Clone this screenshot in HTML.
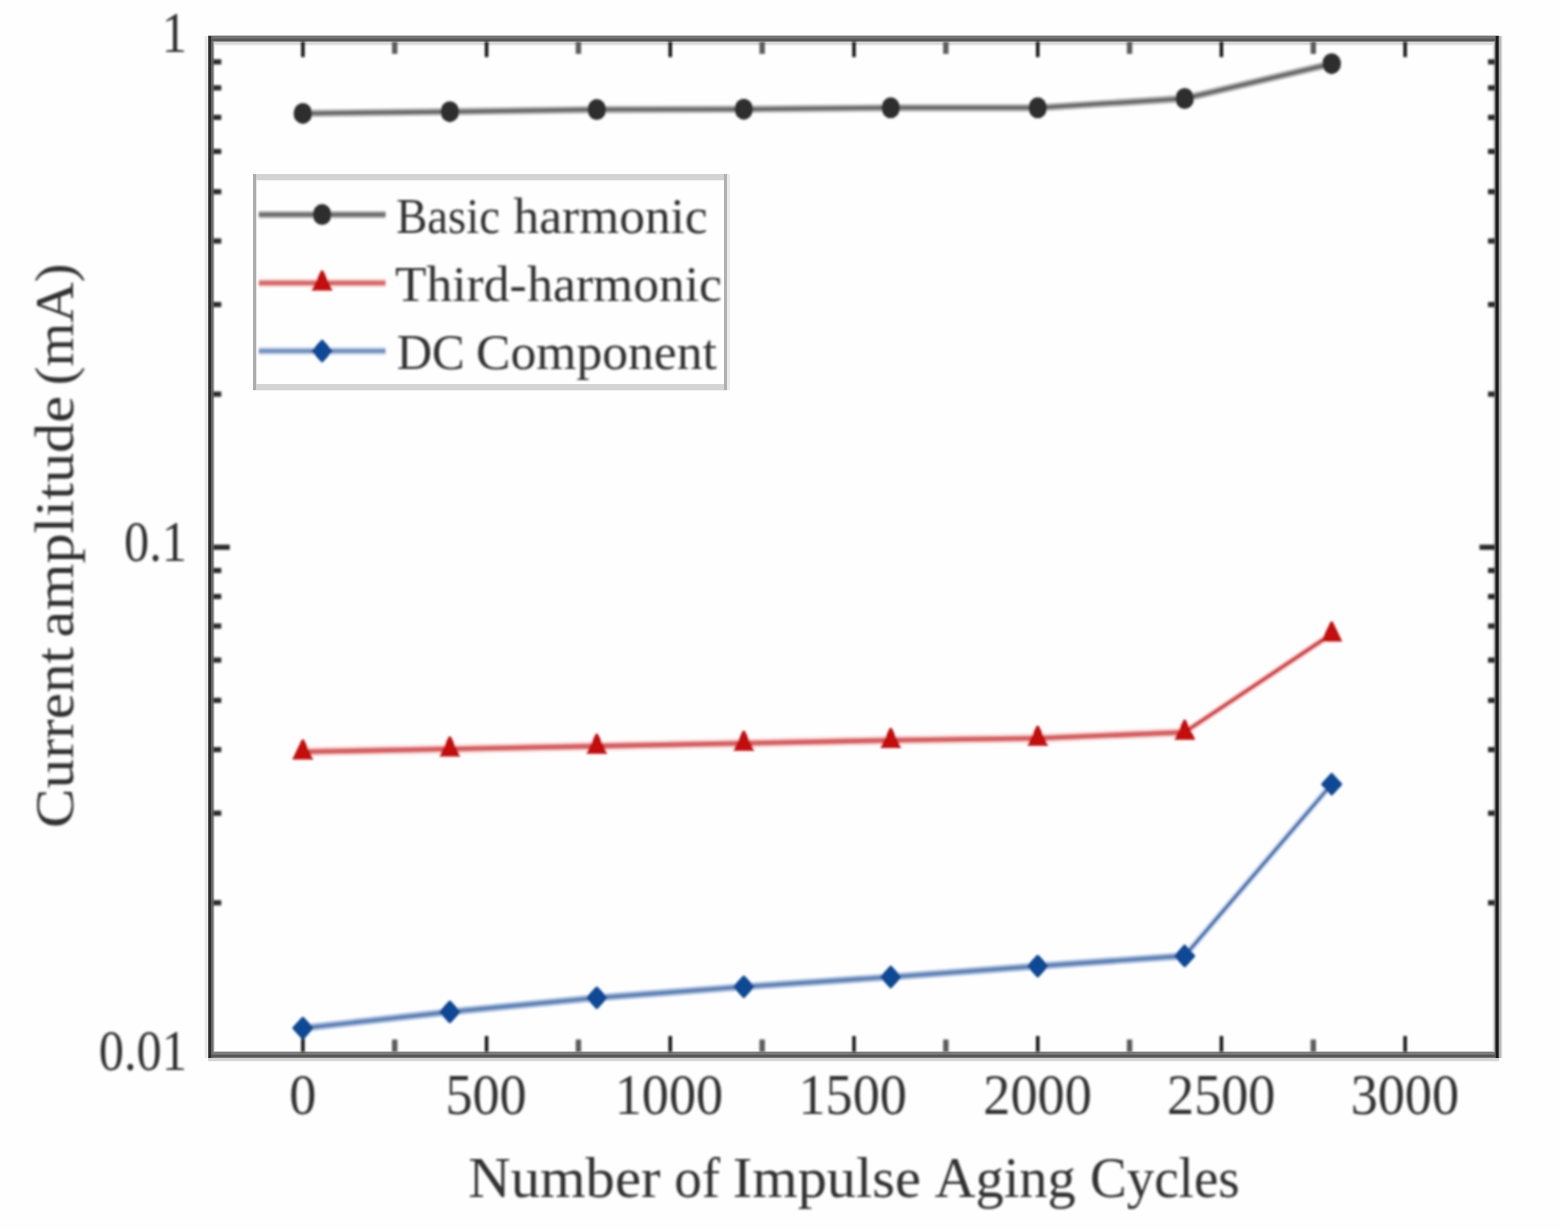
<!DOCTYPE html>
<html><head><meta charset="utf-8"><title>Current amplitude vs impulse aging cycles</title>
<style>
html,body{margin:0;padding:0;background:#fff;}
svg{display:block;}
text{font-family:'Liberation Serif', 'DejaVu Serif', serif;font-kerning:none;}
</style></head>
<body>
<svg width="1560" height="1230" viewBox="0 0 1560 1230">
<defs><filter id="bl" x="-2%" y="-2%" width="104%" height="104%"><feGaussianBlur stdDeviation="0.9"/></filter></defs>
<rect width="1560" height="1230" fill="#fefefe"/>
<rect x="204" y="36" width="1" height="1022" fill="#f8f8f8"/>
<rect x="208" y="45" width="1291" height="1" fill="#f6f6f6"/>
<rect x="208" y="1061" width="1291" height="1" fill="#f4f4f4"/>
<rect x="1502" y="36" width="1" height="1022" fill="#f4f4f4"/>
<rect x="207" y="36" width="1" height="1022" fill="#f0f0f0"/>
<rect x="1492" y="36" width="1" height="1022" fill="#f0f0f0"/>
<rect x="205" y="36" width="1" height="1022" fill="#e8e8e8"/>
<rect x="206" y="36" width="1" height="1022" fill="#e8e8e8"/>
<rect x="214" y="36" width="1" height="1022" fill="#e4e4e4"/>
<rect x="208" y="44" width="1291" height="1" fill="#e2e2e2"/>
<rect x="208" y="42" width="1291" height="1" fill="#dcdcdc"/>
<rect x="1493" y="36" width="1" height="1022" fill="#dcdcdc"/>
<rect x="208" y="43" width="1291" height="1" fill="#d8d8d8"/>
<rect x="208" y="1060" width="1291" height="1" fill="#d8d8d8"/>
<rect x="1501" y="36" width="1" height="1022" fill="#d8d8d8"/>
<rect x="208" y="1058" width="1291" height="1" fill="#d6d6d6"/>
<rect x="208" y="1059" width="1291" height="1" fill="#d2d2d2"/>
<rect x="208" y="1051" width="1291" height="1" fill="#c8c8c8"/>
<rect x="208" y="35" width="1291" height="1" fill="#c4c4c4"/>
<rect x="1500" y="36" width="1" height="1022" fill="#b8b8b8"/>
<rect x="1499" y="36" width="1" height="1022" fill="#b0b0b0"/>
<rect x="1494" y="36" width="1" height="1022" fill="#a8a8a8"/>
<rect x="213" y="36" width="1" height="1022" fill="#9c9c9c"/>
<rect x="208" y="41" width="1291" height="1" fill="#909090"/>
<rect x="208" y="1053" width="1291" height="1" fill="#7d7d7d"/>
<rect x="208" y="1052" width="1291" height="1" fill="#7b7b7b"/>
<rect x="208" y="37" width="1291" height="1" fill="#777777"/>
<rect x="208" y="1057" width="1291" height="1" fill="#777777"/>
<rect x="208" y="36" width="1291" height="1" fill="#717171"/>
<rect x="208" y="1054" width="1291" height="1" fill="#6f6f6f"/>
<rect x="212" y="36" width="1" height="1022" fill="#6c6c6c"/>
<rect x="208" y="38" width="1291" height="1" fill="#666666"/>
<rect x="211" y="36" width="1" height="1022" fill="#666666"/>
<rect x="208" y="39" width="1291" height="1" fill="#5a5a5a"/>
<rect x="208" y="40" width="1291" height="1" fill="#585858"/>
<rect x="208" y="1056" width="1291" height="1" fill="#575757"/>
<rect x="208" y="1055" width="1291" height="1" fill="#555555"/>
<rect x="208" y="36" width="1" height="1022" fill="#555555"/>
<rect x="1495" y="36" width="1" height="1022" fill="#555555"/>
<rect x="1498" y="36" width="1" height="1022" fill="#454545"/>
<rect x="209" y="36" width="1" height="1022" fill="#2e2e2e"/>
<rect x="210" y="36" width="1" height="1022" fill="#2a2a2a"/>
<rect x="1496" y="36" width="1" height="1022" fill="#1c1c1c"/>
<rect x="1497" y="36" width="1" height="1022" fill="#1a1a1a"/>
<rect x="253" y="180" width="474" height="1" fill="#f2f2f2"/>
<rect x="253" y="390" width="474" height="1" fill="#f0f0f0"/>
<rect x="256" y="174" width="1" height="216" fill="#e6e6e6"/>
<rect x="727" y="174" width="3" height="216" fill="#ebebeb"/>
<rect x="253" y="384" width="474" height="6" fill="#d4d4d4"/>
<rect x="253" y="174" width="474" height="6" fill="#d3d3d3"/>
<rect x="724" y="174" width="3" height="216" fill="#b0b0b0"/>
<rect x="253" y="174" width="3" height="216" fill="#acacac"/>
<g filter="url(#bl)">
<rect x="301.16" y="1036.00" width="3.4" height="16.00" fill="#0c0c0c"/>
<rect x="301.16" y="41.6" width="3.4" height="15.50" fill="#0c0c0c"/>
<rect x="392.02" y="1039.50" width="5.4" height="12.50" fill="#5c5c5c"/>
<rect x="392.02" y="41.6" width="5.4" height="12.30" fill="#5c5c5c"/>
<rect x="484.88" y="1036.00" width="3.4" height="16.00" fill="#0c0c0c"/>
<rect x="484.88" y="41.6" width="3.4" height="15.50" fill="#0c0c0c"/>
<rect x="575.73" y="1039.50" width="5.4" height="12.50" fill="#5c5c5c"/>
<rect x="575.73" y="41.6" width="5.4" height="12.30" fill="#5c5c5c"/>
<rect x="668.59" y="1036.00" width="3.4" height="16.00" fill="#0c0c0c"/>
<rect x="668.59" y="41.6" width="3.4" height="15.50" fill="#0c0c0c"/>
<rect x="759.45" y="1039.50" width="5.4" height="12.50" fill="#5c5c5c"/>
<rect x="759.45" y="41.6" width="5.4" height="12.30" fill="#5c5c5c"/>
<rect x="852.30" y="1036.00" width="3.4" height="16.00" fill="#0c0c0c"/>
<rect x="852.30" y="41.6" width="3.4" height="15.50" fill="#0c0c0c"/>
<rect x="943.16" y="1039.50" width="5.4" height="12.50" fill="#5c5c5c"/>
<rect x="943.16" y="41.6" width="5.4" height="12.30" fill="#5c5c5c"/>
<rect x="1036.02" y="1036.00" width="3.4" height="16.00" fill="#0c0c0c"/>
<rect x="1036.02" y="41.6" width="3.4" height="15.50" fill="#0c0c0c"/>
<rect x="1126.88" y="1039.50" width="5.4" height="12.50" fill="#5c5c5c"/>
<rect x="1126.88" y="41.6" width="5.4" height="12.30" fill="#5c5c5c"/>
<rect x="1219.73" y="1036.00" width="3.4" height="16.00" fill="#0c0c0c"/>
<rect x="1219.73" y="41.6" width="3.4" height="15.50" fill="#0c0c0c"/>
<rect x="1310.59" y="1039.50" width="5.4" height="12.50" fill="#5c5c5c"/>
<rect x="1310.59" y="41.6" width="5.4" height="12.30" fill="#5c5c5c"/>
<rect x="1403.45" y="1036.00" width="3.4" height="16.00" fill="#0c0c0c"/>
<rect x="1403.45" y="41.6" width="3.4" height="15.50" fill="#0c0c0c"/>
<rect x="213" y="900.18" width="8.30" height="5.2" fill="#2a2a2a"/>
<rect x="1488.00" y="900.18" width="7.50" height="5.2" fill="#2a2a2a"/>
<rect x="213" y="810.61" width="8.30" height="5.2" fill="#2a2a2a"/>
<rect x="1488.00" y="810.61" width="7.50" height="5.2" fill="#2a2a2a"/>
<rect x="213" y="747.06" width="8.30" height="5.2" fill="#2a2a2a"/>
<rect x="1488.00" y="747.06" width="7.50" height="5.2" fill="#2a2a2a"/>
<rect x="213" y="697.77" width="8.30" height="5.2" fill="#2a2a2a"/>
<rect x="1488.00" y="697.77" width="7.50" height="5.2" fill="#2a2a2a"/>
<rect x="213" y="657.49" width="8.30" height="5.2" fill="#2a2a2a"/>
<rect x="1488.00" y="657.49" width="7.50" height="5.2" fill="#2a2a2a"/>
<rect x="213" y="623.44" width="8.30" height="5.2" fill="#2a2a2a"/>
<rect x="1488.00" y="623.44" width="7.50" height="5.2" fill="#2a2a2a"/>
<rect x="213" y="593.94" width="8.30" height="5.2" fill="#2a2a2a"/>
<rect x="1488.00" y="593.94" width="7.50" height="5.2" fill="#2a2a2a"/>
<rect x="213" y="567.92" width="8.30" height="5.2" fill="#2a2a2a"/>
<rect x="1488.00" y="567.92" width="7.50" height="5.2" fill="#2a2a2a"/>
<rect x="213" y="544.65" width="16.80" height="5.2" fill="#2a2a2a"/>
<rect x="1479.50" y="544.65" width="16.00" height="5.2" fill="#2a2a2a"/>
<rect x="213" y="391.53" width="8.30" height="5.2" fill="#2a2a2a"/>
<rect x="1488.00" y="391.53" width="7.50" height="5.2" fill="#2a2a2a"/>
<rect x="213" y="301.96" width="8.30" height="5.2" fill="#2a2a2a"/>
<rect x="1488.00" y="301.96" width="7.50" height="5.2" fill="#2a2a2a"/>
<rect x="213" y="238.41" width="8.30" height="5.2" fill="#2a2a2a"/>
<rect x="1488.00" y="238.41" width="7.50" height="5.2" fill="#2a2a2a"/>
<rect x="213" y="189.12" width="8.30" height="5.2" fill="#2a2a2a"/>
<rect x="1488.00" y="189.12" width="7.50" height="5.2" fill="#2a2a2a"/>
<rect x="213" y="148.84" width="8.30" height="5.2" fill="#2a2a2a"/>
<rect x="1488.00" y="148.84" width="7.50" height="5.2" fill="#2a2a2a"/>
<rect x="213" y="114.79" width="8.30" height="5.2" fill="#2a2a2a"/>
<rect x="1488.00" y="114.79" width="7.50" height="5.2" fill="#2a2a2a"/>
<rect x="213" y="85.29" width="8.30" height="5.2" fill="#2a2a2a"/>
<rect x="1488.00" y="85.29" width="7.50" height="5.2" fill="#2a2a2a"/>
<rect x="213" y="59.27" width="8.30" height="5.2" fill="#2a2a2a"/>
<rect x="1488.00" y="59.27" width="7.50" height="5.2" fill="#2a2a2a"/>
<line x1="302.86" y1="113.40" x2="449.83" y2="111.70" stroke="#bababa" stroke-width="7.8" stroke-linecap="round"/><line x1="449.83" y1="111.70" x2="596.80" y2="109.60" stroke="#bababa" stroke-width="7.8" stroke-linecap="round"/><line x1="596.80" y1="109.60" x2="743.78" y2="109.20" stroke="#bababa" stroke-width="7.8" stroke-linecap="round"/><line x1="743.78" y1="109.20" x2="890.75" y2="107.80" stroke="#bababa" stroke-width="7.8" stroke-linecap="round"/><line x1="890.75" y1="107.80" x2="1037.72" y2="107.80" stroke="#bababa" stroke-width="7.8" stroke-linecap="round"/><line x1="1037.72" y1="107.80" x2="1184.69" y2="98.50" stroke="#bababa" stroke-width="7.8" stroke-linecap="round"/><line x1="1184.69" y1="98.50" x2="1331.66" y2="63.70" stroke="#bababa" stroke-width="7.8" stroke-linecap="round"/><line x1="302.86" y1="113.40" x2="449.83" y2="111.70" stroke="#6c6c6c" stroke-width="4.0" stroke-linecap="round"/><line x1="449.83" y1="111.70" x2="596.80" y2="109.60" stroke="#6c6c6c" stroke-width="4.0" stroke-linecap="round"/><line x1="596.80" y1="109.60" x2="743.78" y2="109.20" stroke="#6c6c6c" stroke-width="4.0" stroke-linecap="round"/><line x1="743.78" y1="109.20" x2="890.75" y2="107.80" stroke="#6c6c6c" stroke-width="4.0" stroke-linecap="round"/><line x1="890.75" y1="107.80" x2="1037.72" y2="107.80" stroke="#6c6c6c" stroke-width="4.0" stroke-linecap="round"/><line x1="1037.72" y1="107.80" x2="1184.69" y2="98.50" stroke="#6c6c6c" stroke-width="4.0" stroke-linecap="round"/><line x1="1184.69" y1="98.50" x2="1331.66" y2="63.70" stroke="#6c6c6c" stroke-width="4.0" stroke-linecap="round"/>
<line x1="302.86" y1="751.80" x2="449.83" y2="749.00" stroke="#f6e2e2" stroke-width="10" stroke-linecap="round"/><line x1="449.83" y1="749.00" x2="596.80" y2="746.10" stroke="#f6e2e2" stroke-width="10" stroke-linecap="round"/><line x1="596.80" y1="746.10" x2="743.78" y2="743.20" stroke="#f6e2e2" stroke-width="10" stroke-linecap="round"/><line x1="743.78" y1="743.20" x2="890.75" y2="740.30" stroke="#f6e2e2" stroke-width="10" stroke-linecap="round"/><line x1="890.75" y1="740.30" x2="1037.72" y2="738.20" stroke="#f6e2e2" stroke-width="10" stroke-linecap="round"/><line x1="1037.72" y1="738.20" x2="1184.69" y2="732.20" stroke="#f6e2e2" stroke-width="10" stroke-linecap="round"/><line x1="1184.69" y1="732.20" x2="1331.66" y2="634.00" stroke="#f3d3d3" stroke-width="6.6" stroke-linecap="round"/><line x1="302.86" y1="751.80" x2="449.83" y2="749.00" stroke="#db6264" stroke-width="5.6" stroke-linecap="round"/><line x1="449.83" y1="749.00" x2="596.80" y2="746.10" stroke="#db6264" stroke-width="5.6" stroke-linecap="round"/><line x1="596.80" y1="746.10" x2="743.78" y2="743.20" stroke="#db6264" stroke-width="5.6" stroke-linecap="round"/><line x1="743.78" y1="743.20" x2="890.75" y2="740.30" stroke="#db6264" stroke-width="5.6" stroke-linecap="round"/><line x1="890.75" y1="740.30" x2="1037.72" y2="738.20" stroke="#db6264" stroke-width="5.6" stroke-linecap="round"/><line x1="1037.72" y1="738.20" x2="1184.69" y2="732.20" stroke="#db6264" stroke-width="5.6" stroke-linecap="round"/><line x1="1184.69" y1="732.20" x2="1331.66" y2="634.00" stroke="#d6474b" stroke-width="4.0" stroke-linecap="round"/>
<line x1="302.86" y1="1028.10" x2="449.83" y2="1011.90" stroke="#adc0dc" stroke-width="7.6" stroke-linecap="round"/><line x1="449.83" y1="1011.90" x2="596.80" y2="997.80" stroke="#adc0dc" stroke-width="7.6" stroke-linecap="round"/><line x1="596.80" y1="997.80" x2="743.78" y2="986.80" stroke="#adc0dc" stroke-width="7.6" stroke-linecap="round"/><line x1="743.78" y1="986.80" x2="890.75" y2="977.00" stroke="#adc0dc" stroke-width="7.6" stroke-linecap="round"/><line x1="890.75" y1="977.00" x2="1037.72" y2="966.10" stroke="#adc0dc" stroke-width="7.6" stroke-linecap="round"/><line x1="1037.72" y1="966.10" x2="1184.69" y2="955.90" stroke="#adc0dc" stroke-width="7.6" stroke-linecap="round"/><line x1="1184.69" y1="955.90" x2="1331.66" y2="784.20" stroke="#c8d5ea" stroke-width="6.4" stroke-linecap="round"/><line x1="302.86" y1="1028.10" x2="449.83" y2="1011.90" stroke="#5881b7" stroke-width="3.6" stroke-linecap="round"/><line x1="449.83" y1="1011.90" x2="596.80" y2="997.80" stroke="#5881b7" stroke-width="3.6" stroke-linecap="round"/><line x1="596.80" y1="997.80" x2="743.78" y2="986.80" stroke="#5881b7" stroke-width="3.6" stroke-linecap="round"/><line x1="743.78" y1="986.80" x2="890.75" y2="977.00" stroke="#5881b7" stroke-width="3.6" stroke-linecap="round"/><line x1="890.75" y1="977.00" x2="1037.72" y2="966.10" stroke="#5881b7" stroke-width="3.6" stroke-linecap="round"/><line x1="1037.72" y1="966.10" x2="1184.69" y2="955.90" stroke="#5881b7" stroke-width="3.6" stroke-linecap="round"/><line x1="1184.69" y1="955.90" x2="1331.66" y2="784.20" stroke="#4372b1" stroke-width="3.2" stroke-linecap="round"/>
<ellipse cx="302.86" cy="113.40" rx="9.3" ry="10.5" fill="#2e2e2e"/>
<ellipse cx="449.83" cy="111.70" rx="9.3" ry="10.5" fill="#2e2e2e"/>
<ellipse cx="596.80" cy="109.60" rx="9.3" ry="10.5" fill="#2e2e2e"/>
<ellipse cx="743.78" cy="109.20" rx="9.3" ry="10.5" fill="#2e2e2e"/>
<ellipse cx="890.75" cy="107.80" rx="9.3" ry="10.5" fill="#2e2e2e"/>
<ellipse cx="1037.72" cy="107.80" rx="9.3" ry="10.5" fill="#2e2e2e"/>
<ellipse cx="1184.69" cy="98.50" rx="9.3" ry="10.5" fill="#2e2e2e"/>
<ellipse cx="1331.66" cy="63.70" rx="9.3" ry="10.5" fill="#2e2e2e"/>
<polygon points="301.86,739.40 303.86,739.40 313.46,759.40 292.26,759.40" fill="#c40709"/>
<polygon points="448.83,736.60 450.83,736.60 460.43,756.60 439.23,756.60" fill="#c40709"/>
<polygon points="595.80,733.70 597.80,733.70 607.40,753.70 586.20,753.70" fill="#c40709"/>
<polygon points="742.78,730.80 744.78,730.80 754.38,750.80 733.18,750.80" fill="#c40709"/>
<polygon points="889.75,727.90 891.75,727.90 901.35,747.90 880.15,747.90" fill="#c40709"/>
<polygon points="1036.72,725.80 1038.72,725.80 1048.32,745.80 1027.12,745.80" fill="#c40709"/>
<polygon points="1183.69,719.80 1185.69,719.80 1195.29,739.80 1174.09,739.80" fill="#c40709"/>
<polygon points="1330.66,621.60 1332.66,621.60 1342.26,641.60 1321.06,641.60" fill="#c40709"/>
<polygon points="302.86,1018.30 311.86,1028.10 302.86,1037.90 293.86,1028.10" fill="#0f4a95" stroke="#0f4a95" stroke-width="3" stroke-linejoin="round"/>
<polygon points="449.83,1002.10 458.83,1011.90 449.83,1021.70 440.83,1011.90" fill="#0f4a95" stroke="#0f4a95" stroke-width="3" stroke-linejoin="round"/>
<polygon points="596.80,988.00 605.80,997.80 596.80,1007.60 587.80,997.80" fill="#0f4a95" stroke="#0f4a95" stroke-width="3" stroke-linejoin="round"/>
<polygon points="743.78,977.00 752.78,986.80 743.78,996.60 734.78,986.80" fill="#0f4a95" stroke="#0f4a95" stroke-width="3" stroke-linejoin="round"/>
<polygon points="890.75,967.20 899.75,977.00 890.75,986.80 881.75,977.00" fill="#0f4a95" stroke="#0f4a95" stroke-width="3" stroke-linejoin="round"/>
<polygon points="1037.72,956.30 1046.72,966.10 1037.72,975.90 1028.72,966.10" fill="#0f4a95" stroke="#0f4a95" stroke-width="3" stroke-linejoin="round"/>
<polygon points="1184.69,946.10 1193.69,955.90 1184.69,965.70 1175.69,955.90" fill="#0f4a95" stroke="#0f4a95" stroke-width="3" stroke-linejoin="round"/>
<polygon points="1331.66,774.40 1340.66,784.20 1331.66,794.00 1322.66,784.20" fill="#0f4a95" stroke="#0f4a95" stroke-width="3" stroke-linejoin="round"/>
<line x1="258.8" y1="214.6" x2="385.5" y2="214.6" stroke="#b4b4b4" stroke-width="7.4"/>
<line x1="258.8" y1="214.6" x2="385.5" y2="214.6" stroke="#6a6a6a" stroke-width="3.8"/>
<ellipse cx="322.10" cy="214.60" rx="9.3" ry="10.5" fill="#2e2e2e"/>
<line x1="258.8" y1="283.0" x2="385.5" y2="283.0" stroke="#f4dcdc" stroke-width="8.4"/>
<line x1="258.8" y1="283.0" x2="385.5" y2="283.0" stroke="#dc6767" stroke-width="5.2"/>
<polygon points="321.10,270.60 323.10,270.60 332.70,290.60 311.50,290.60" fill="#c40709"/>
<line x1="258.8" y1="351.0" x2="385.5" y2="351.0" stroke="#e6ebf4" stroke-width="9.0"/>
<line x1="258.8" y1="351.0" x2="385.5" y2="351.0" stroke="#7295c2" stroke-width="5.0"/>
<polygon points="322.10,341.20 331.10,351.00 322.10,360.80 313.10,351.00" fill="#0f4a95" stroke="#0f4a95" stroke-width="3" stroke-linejoin="round"/>
<text x="396.15" y="232.50" font-size="50.40" textLength="103.78" lengthAdjust="spacingAndGlyphs" fill="#303030" >Basic</text><text x="513.60" y="232.50" font-size="50.40" textLength="194.08" lengthAdjust="spacingAndGlyphs" fill="#303030" >harmonic</text>
<text x="395.07" y="300.70" font-size="50.40" textLength="131.49" lengthAdjust="spacingAndGlyphs" fill="#303030" >Third-</text><text x="527.30" y="300.70" font-size="50.40" textLength="194.59" lengthAdjust="spacingAndGlyphs" fill="#303030" >harmonic</text>
<text x="396.69" y="368.60" font-size="50.40" textLength="68.01" lengthAdjust="spacingAndGlyphs" fill="#303030" >DC</text><text x="476.08" y="368.60" font-size="50.40" textLength="240.82" lengthAdjust="spacingAndGlyphs" fill="#303030" >Component</text>
<text x="161.83" y="52.35" font-size="56.31" textLength="25.20" lengthAdjust="spacingAndGlyphs" fill="#303030" >1</text>
<text x="124.03" y="561.00" font-size="56.31" textLength="63.00" lengthAdjust="spacingAndGlyphs" fill="#303030" >0.1</text>
<text x="98.83" y="1069.65" font-size="56.31" textLength="88.20" lengthAdjust="spacingAndGlyphs" fill="#303030" >0.01</text>
<text x="289.31" y="1114.05" font-size="56.76" textLength="27.09" lengthAdjust="spacingAndGlyphs" fill="#303030" >0</text>
<text x="445.39" y="1114.05" font-size="56.76" textLength="81.28" lengthAdjust="spacingAndGlyphs" fill="#303030" >500</text>
<text x="614.75" y="1114.05" font-size="56.76" textLength="108.37" lengthAdjust="spacingAndGlyphs" fill="#303030" >1000</text>
<text x="798.47" y="1114.05" font-size="56.76" textLength="108.37" lengthAdjust="spacingAndGlyphs" fill="#303030" >1500</text>
<text x="983.37" y="1114.05" font-size="56.76" textLength="108.37" lengthAdjust="spacingAndGlyphs" fill="#303030" >2000</text>
<text x="1167.09" y="1114.05" font-size="56.76" textLength="108.37" lengthAdjust="spacingAndGlyphs" fill="#303030" >2500</text>
<text x="1350.70" y="1114.05" font-size="56.76" textLength="108.37" lengthAdjust="spacingAndGlyphs" fill="#303030" >3000</text>
<text x="468.31" y="1196.50" font-size="58.03" textLength="192.21" lengthAdjust="spacingAndGlyphs" fill="#303030" >Number</text><text x="674.30" y="1196.50" font-size="58.03" textLength="45.90" lengthAdjust="spacingAndGlyphs" fill="#303030" >of</text><text x="732.89" y="1196.50" font-size="58.03" textLength="187.93" lengthAdjust="spacingAndGlyphs" fill="#303030" >Impulse</text><text x="934.65" y="1196.50" font-size="58.03" textLength="141.23" lengthAdjust="spacingAndGlyphs" fill="#303030" >Aging</text><text x="1089.94" y="1196.50" font-size="58.03" textLength="149.85" lengthAdjust="spacingAndGlyphs" fill="#303030" >Cycles</text>
<g transform="rotate(-90)"><text x="-827.93" y="72.80" font-size="54.06" textLength="180.98" lengthAdjust="spacingAndGlyphs" fill="#303030" >Current</text><text x="-637.42" y="72.80" font-size="54.06" textLength="241.52" lengthAdjust="spacingAndGlyphs" fill="#303030" >amplitude</text><text x="-385.17" y="72.80" font-size="54.06" textLength="121.64" lengthAdjust="spacingAndGlyphs" fill="#303030" >(mA)</text></g>
</g>
</svg>
</body></html>
